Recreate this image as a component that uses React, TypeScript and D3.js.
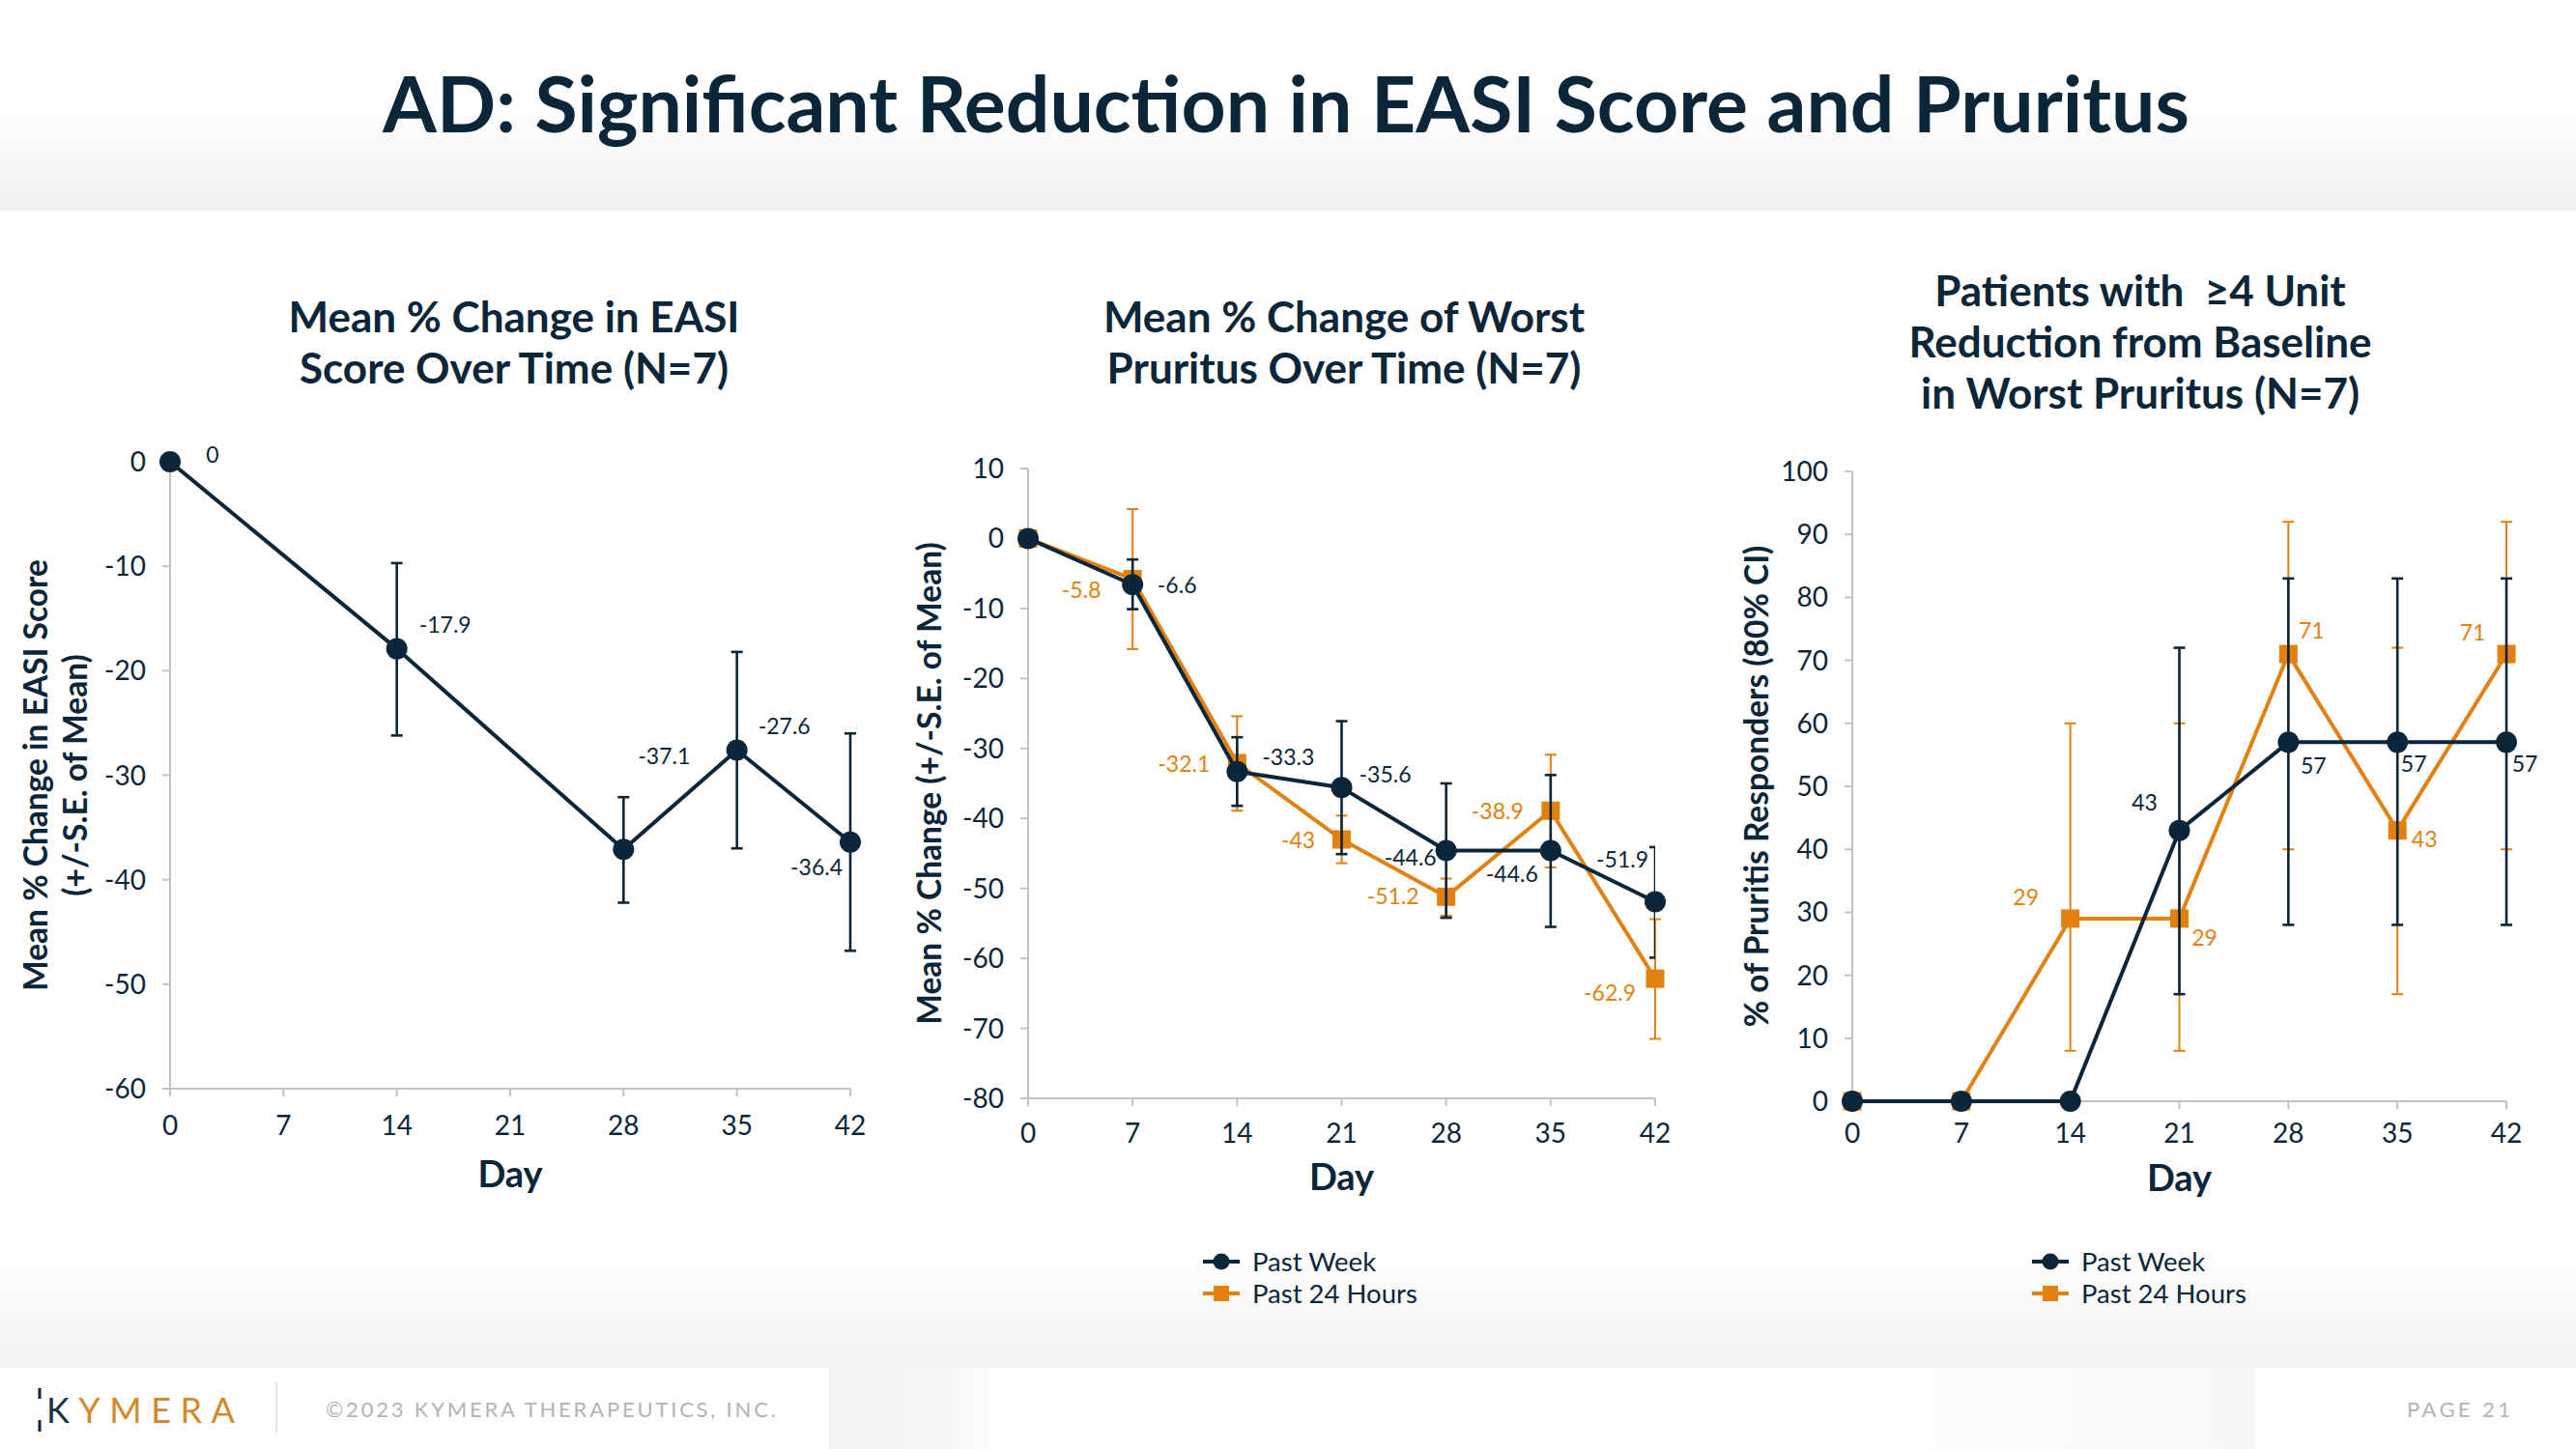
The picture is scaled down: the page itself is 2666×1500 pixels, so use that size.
import React from 'react';
import * as d3 from 'd3';

// ---------- data ----------
const dayTicks = [0, 7, 14, 21, 28, 35, 42];

// Chart 1: EASI
const easiDays = [0, 14, 28, 35, 42];
const easiMean = [0, -17.9, -37.1, -27.6, -36.4];
const easiUpper: (number | null)[] = [null, -9.7, -32.1, -18.2, -26.0];
const easiLower: (number | null)[] = [null, -26.2, -42.2, -37.0, -46.8];
const easiYTicks = [0, -10, -20, -30, -40, -50, -60];

// Chart 2: worst pruritus
const pruritusDays = [0, 7, 14, 21, 28, 35, 42];
const weekMean = [0, -6.6, -33.3, -35.6, -44.6, -44.6, -51.9];
const weekUpper: (number | null)[] = [null, -3.0, -28.4, -26.1, -35.0, -33.8, -44.1];
const weekLower: (number | null)[] = [null, -10.1, -38.2, -45.1, -54.2, -55.5, -59.9];
const hoursMean = [0, -5.8, -32.1, -43, -51.2, -38.9, -62.9];
const hoursUpper: (number | null)[] = [null, 4.2, -25.4, -39.6, -48.6, -30.9, -54.4];
const hoursLower: (number | null)[] = [null, -15.8, -38.9, -46.4, -53.9, -47.0, -71.5];
const pruritusYTicks = [10, 0, -10, -20, -30, -40, -50, -60, -70, -80];

// Chart 3: responders
const respDays = [0, 7, 14, 21, 28, 35, 42];
const respWeek = [0, 0, 0, 43, 57, 57, 57];
const respWeekUpper: (number | null)[] = [null, null, null, 72, 83, 83, 83];
const respWeekLower: (number | null)[] = [null, null, null, 17, 28, 28, 28];
const resp24 = [0, 0, 29, 29, 71, 43, 71];
const resp24Upper: (number | null)[] = [null, null, 60, 60, 92, 72, 92];
const resp24Lower: (number | null)[] = [null, null, 8, 8, 40, 17, 40];
const respYTicks = [0, 10, 20, 30, 40, 50, 60, 70, 80, 90, 100];

const seriesNames = ['Past Week', 'Past 24 Hours'];

// label placement (pixel offsets from the point; null = no label)
type Off = [number, number] | null;
const easiLabelOff: Off[] = [[44, -7], [50, -25], [42, -96], [49, -25], [-35, 26]];
const weekLabelOff: Off[] = [null, [46, 1], [53, -15], [45, -13], [-37, 7], [-40, 24], [-34, -43]];
const hoursLabelOff: Off[] = [null, [-53, 12], [-55, 1], [-45, 1], [-55, 0], [-55, 1], [-47, 15]];
const respWeekLabelOff: Off[] = [null, null, null, [-36, -29], [26, 25], [17, 23], [19, 23]];
const resp24LabelOff: Off[] = [null, null, [-46, -22], [26, 20], [24, -24], [28, 9], [-35, -22]];

// ---------- style ----------
const NAVY = '#0b2539';
const ORANGE = '#e2810f';
const AXIS = '#c3c3c3';
const FONT = 'Lato, "Open Sans", sans-serif';

type Series = {
  color: string;
  marker: 'circle' | 'square';
  xs: number[];
  ys: number[];
  hi: (number | null)[];
  lo: (number | null)[];
  offs: Off[];
  errW: number;
  clipErr?: boolean;
};

type ChartProps = {
  id: string;
  left: number;
  right: number;
  top: number;
  bottom: number;
  yDomain: [number, number];
  yTicks: number[];
  series: Series[];
  title: string[];
  titleX: number;
  titleY: number;
  yTitle: string[];
  yTitleX: number[];
  tickBase: number;
  dayBase: number;
};

function Chart(p: ChartProps) {
  const x = d3.scaleLinear().domain([0, 42]).range([p.left, p.right]);
  const y = d3.scaleLinear().domain(p.yDomain).range([p.bottom, p.top]);
  const cx = (p.left + p.right) / 2;
  const yMid = (p.top + p.bottom) / 2;
  const line = d3.line<[number, number]>().x((d) => x(d[0])).y((d) => y(d[1]));
  return (
    <g>
      <defs>
        <clipPath id={`clip-${p.id}`}>
          <rect x={p.left - 50} y={p.top - 100} width={p.right - p.left + 50} height={p.bottom - p.top + 200} />
        </clipPath>
      </defs>
      {/* title */}
      {p.title.map((t, i) => (
        <text key={i} x={p.titleX} y={p.titleY + i * 53} textAnchor="middle" fontFamily={FONT} fontWeight={700} fontSize={44} fill={NAVY} style={{ whiteSpace: 'pre' }}>
          {t}
        </text>
      ))}
      {/* y title */}
      {p.yTitle.map((t, i) => (
        <text key={i} transform={`translate(${p.yTitleX[i]},${yMid}) rotate(-90)`} textAnchor="middle" fontFamily={FONT} fontWeight={700} fontSize={33.5} fill={NAVY}>
          {t}
        </text>
      ))}
      {/* axes */}
      <line x1={p.left} x2={p.left} y1={p.top} y2={p.bottom} stroke={AXIS} strokeWidth={2} />
      <line x1={p.left - 8} x2={p.right} y1={p.bottom} y2={p.bottom} stroke={AXIS} strokeWidth={2} />
      {p.yTicks.map((t) => (
        <g key={t}>
          <line x1={p.left - 8} x2={p.left} y1={y(t)} y2={y(t)} stroke={AXIS} strokeWidth={2} />
          <text x={p.left - 25} y={y(t) + 10} textAnchor="end" fontFamily={FONT} fontSize={28} fill={NAVY}>
            {t}
          </text>
        </g>
      ))}
      {dayTicks.map((t) => (
        <g key={t}>
          <line x1={x(t)} x2={x(t)} y1={p.bottom} y2={p.bottom + 8} stroke={AXIS} strokeWidth={2} />
          <text x={x(t)} y={p.tickBase} textAnchor="middle" fontFamily={FONT} fontSize={28} fill={NAVY}>
            {t}
          </text>
        </g>
      ))}
      <text x={cx} y={p.dayBase} textAnchor="middle" fontFamily={FONT} fontWeight={700} fontSize={38} fill={NAVY}>
        Day
      </text>
      {/* series */}
      {p.series.map((s, si) => {
        const pts: [number, number][] = s.xs.map((d, i) => [d, s.ys[i]]);
        return (
          <g key={si}>
            <g clipPath={s.clipErr ? `url(#clip-${p.id})` : undefined}>
              {s.xs.map((d, i) => {
                const hi = s.hi[i];
                const lo = s.lo[i];
                if (hi === null || lo === null) return null;
                const px = x(d);
                return (
                  <g key={i} stroke={s.color} strokeWidth={s.errW}>
                    <line x1={px} x2={px} y1={y(hi)} y2={y(lo)} />
                    <line x1={px - 6} x2={px + 6} y1={y(hi)} y2={y(hi)} />
                    <line x1={px - 6} x2={px + 6} y1={y(lo)} y2={y(lo)} />
                  </g>
                );
              })}
            </g>
            <path d={line(pts) || ''} fill="none" stroke={s.color} strokeWidth={4} strokeLinejoin="round" />
            {pts.map((d, i) =>
              s.marker === 'circle' ? (
                <circle key={i} cx={x(d[0])} cy={y(d[1])} r={11} fill={s.color} />
              ) : (
                <rect key={i} x={x(d[0]) - 9.5} y={y(d[1]) - 9.5} width={19} height={19} fill={s.color} />
              )
            )}
          </g>
        );
      })}
      {/* labels */}
      {p.series.map((s, si) => (
        <g key={si}>
          {s.xs.map((d, i) => {
            const o = s.offs[i];
            if (!o) return null;
            return (
              <text key={i} x={x(d) + o[0]} y={y(s.ys[i]) + o[1] + 8} textAnchor="middle" fontFamily={FONT} fontSize={23} fill={s.color}>
                {String(s.ys[i])}
              </text>
            );
          })}
        </g>
      ))}
    </g>
  );
}

function Legend({ x, y }: { x: number; y: number }) {
  return (
    <g>
      {seriesNames.map((n, i) => {
        const yy = y + i * 33;
        const c = i === 0 ? NAVY : ORANGE;
        return (
          <g key={n}>
            <line x1={x - 19} x2={x + 19} y1={yy} y2={yy} stroke={c} strokeWidth={4} />
            {i === 0 ? <circle cx={x} cy={yy} r={8.5} fill={c} /> : <rect x={x - 8} y={yy - 8} width={16} height={16} fill={c} />}
            <text x={x + 32} y={yy + 9.5} fontFamily={FONT} fontSize={27.5} fill={NAVY}>
              {n}
            </text>
          </g>
        );
      })}
    </g>
  );
}

export default function App() {
  return (
    <div style={{ position: 'absolute', left: 0, top: 0 }}>
      <svg width={2666} height={1500} viewBox="0 0 2666 1500" style={{ display: 'block' }}>
        <defs>
          <linearGradient id="hdr" x1="0" y1="0" x2="0" y2="1">
            <stop offset="0" stopColor="#ffffff" />
            <stop offset="0.45" stopColor="#ffffff" />
            <stop offset="1" stopColor="#f1f1f1" />
          </linearGradient>
          <linearGradient id="btm" x1="0" y1="0" x2="0" y2="1">
            <stop offset="0" stopColor="#ffffff" />
            <stop offset="1" stopColor="#f3f3f3" />
          </linearGradient>
          <linearGradient id="ftr" x1="0" y1="0" x2="1" y2="0">
            <stop offset="0" stopColor="#f3f3f3" />
            <stop offset="0.09" stopColor="#f7f7f7" />
            <stop offset="0.12" stopColor="#fefefe" />
            <stop offset="0.75" stopColor="#fdfdfd" />
            <stop offset="1" stopColor="#f7f7f7" />
          </linearGradient>
        </defs>
        <rect x={0} y={0} width={2666} height={1500} fill="#ffffff" />
        <rect x={0} y={0} width={2666} height={218} fill="url(#hdr)" />
        <rect x={0} y={1280} width={2666} height={136} fill="url(#btm)" />
        <rect x={858} y={1416} width={1476} height={84} fill="url(#ftr)" />

        <text x={1331} y={137} textAnchor="middle" fontFamily={FONT} fontWeight={700} fontSize={80.5} fill={NAVY}>
          AD: Significant Reduction in EASI Score and Pruritus
        </text>

        <Chart
          id="c1"
          left={176}
          right={880}
          top={478}
          bottom={1127}
          yDomain={[-60, 0]}
          yTicks={easiYTicks}
          title={['Mean % Change in EASI', 'Score Over Time (N=7)']}
          titleX={532}
          titleY={344}
          yTitle={['Mean % Change in EASI Score', '(+/-S.E. of Mean)']}
          yTitleX={[49, 90]}
          tickBase={1175}
          dayBase={1229}
          series={[
            { color: NAVY, marker: 'circle', xs: easiDays, ys: easiMean, hi: easiUpper, lo: easiLower, offs: easiLabelOff, errW: 2.6 },
          ]}
        />
        <Chart
          id="c2"
          left={1064}
          right={1713}
          top={485}
          bottom={1137}
          yDomain={[-80, 10]}
          yTicks={pruritusYTicks}
          title={['Mean % Change of Worst', 'Pruritus Over Time (N=7)']}
          titleX={1391}
          titleY={344}
          yTitle={['Mean % Change (+/-S.E. of Mean)']}
          yTitleX={[974]}
          tickBase={1183}
          dayBase={1232}
          series={[
            { color: ORANGE, marker: 'square', xs: pruritusDays, ys: hoursMean, hi: hoursUpper, lo: hoursLower, offs: hoursLabelOff, errW: 2 },
            { color: NAVY, marker: 'circle', xs: pruritusDays, ys: weekMean, hi: weekUpper, lo: weekLower, offs: weekLabelOff, errW: 2.6, clipErr: true },
          ]}
        />
        <Chart
          id="c3"
          left={1917}
          right={2594}
          top={488}
          bottom={1140}
          yDomain={[0, 100]}
          yTicks={respYTicks}
          title={['Patients with \u00a0\u22654 Unit', 'Reduction from Baseline', 'in Worst Pruritus (N=7)']}
          titleX={2215}
          titleY={317}
          yTitle={['% of Pruritis Responders (80% CI)']}
          yTitleX={[1830]}
          tickBase={1183}
          dayBase={1233}
          series={[
            { color: ORANGE, marker: 'square', xs: respDays, ys: resp24, hi: resp24Upper, lo: resp24Lower, offs: resp24LabelOff, errW: 2 },
            { color: NAVY, marker: 'circle', xs: respDays, ys: respWeek, hi: respWeekUpper, lo: respWeekLower, offs: respWeekLabelOff, errW: 2.6 },
          ]}
        />

        <Legend x={1264} y={1306} />
        <Legend x={2122} y={1306} />

        {/* footer */}
        <line x1={41} x2={41} y1={1437} y2={1448} stroke={NAVY} strokeWidth={3} />
        <line x1={41} x2={41} y1={1470} y2={1482} stroke={NAVY} strokeWidth={3} />
        <text x={48} y={1473} fontFamily={FONT} fontSize={36} letterSpacing={9.5}>
          <tspan fill="#1b3445">K</tspan>
          <tspan fill="#d08a2c">YMERA</tspan>
        </text>
        <line x1={286} x2={286} y1={1430} y2={1485} stroke="#e3e3e3" strokeWidth={1.5} />
        <text x={337} y={1467} fontFamily={FONT} fontSize={22} letterSpacing={2.8} fill="#b3b3b3">
          ©2023 KYMERA THERAPEUTICS, INC.
        </text>
        <text x={2491} y={1467} fontFamily={FONT} fontSize={22} letterSpacing={3.4} fill="#b3b3b3">
          PAGE 21
        </text>
      </svg>
    </div>
  );
}
